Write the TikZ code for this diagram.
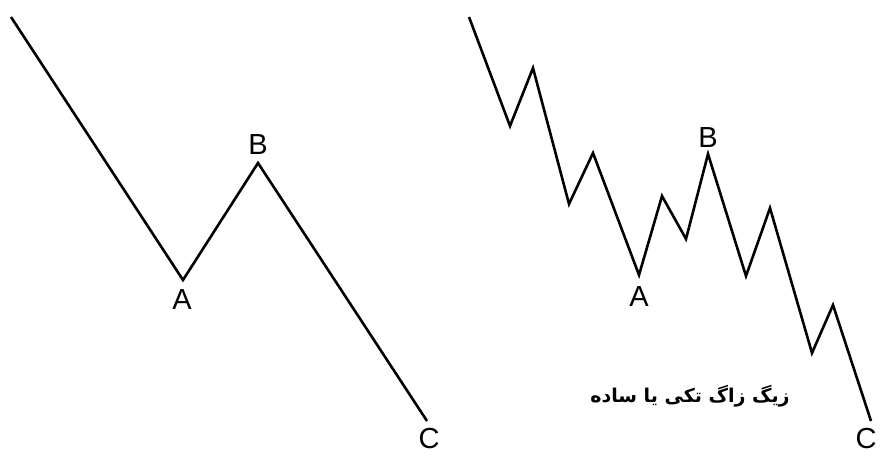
\documentclass[tikz,border=0pt]{standalone}
\usepackage{fontspec}
\setmainfont{Liberation Sans}
\newfontfamily\arabicfont[Script=Arabic]{DejaVu Sans}
\TeXXeTstate=1

\begin{document}
\begin{tikzpicture}[x=1pt,y=-1pt,
  wave/.style={line width=2.6pt,line join=miter},
  lbl/.style={font=\fontsize{29}{31}\selectfont,inner sep=0pt}]
\useasboundingbox (0,0) rectangle (882,455);

% simple zigzag
\coordinate (s0) at (11,17);
\coordinate (sA) at (183,280);
\coordinate (sB) at (258,163);
\coordinate (sC) at (427,421);
\draw[wave] (s0) -- (sA) -- (sB) -- (sC);
\node[lbl] (lA) at (182,300) {A};
\node[lbl] (lB) at (258,145) {B};
\node[lbl] (lC) at (429,439) {C};

% zigzag with inner waves
\coordinate (z0) at (469,17);
\coordinate (z1) at (510,126);
\coordinate (z2) at (533,68);
\coordinate (z3) at (569,204);
\coordinate (z4) at (593,153);
\coordinate (zA) at (639,275);
\coordinate (z5) at (662,196);
\coordinate (z6) at (686,239);
\coordinate (zB) at (708,154);
\coordinate (z7) at (746,276);
\coordinate (z8) at (770,208);
\coordinate (z9) at (812,353);
\coordinate (z10) at (833,305);
\coordinate (zC) at (871,421);
\draw[wave] (z0) -- (z1) -- (z2) -- (z3) -- (z4) -- (zA) -- (z5) -- (z6)
  -- (zB) -- (z7) -- (z8) -- (z9) -- (z10) -- (zC);
\node[lbl] (rA) at (639,297) {A};
\node[lbl] (rB) at (708,138) {B};
\node[lbl] (rC) at (866,439) {C};

\node (title) at (690,396) {\arabicfont\bfseries\fontsize{19}{21}\selectfont\beginR زیگ زاگ تکی یا ساده\endR};
\end{tikzpicture}
\end{document}
